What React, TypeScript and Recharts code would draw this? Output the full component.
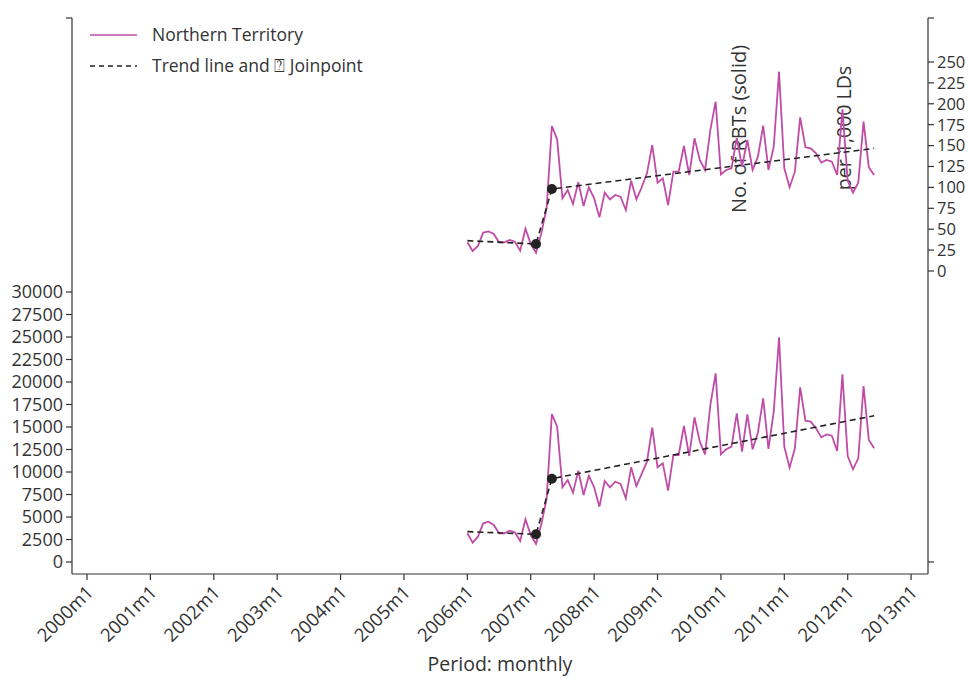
import React from "react";
import { ComposedChart, Line, XAxis, YAxis, Customized } from "recharts";

// month index: 0 = 2000m1
const START_MONTH = 72; // 2006m1

// No. of RBTs (left axis), monthly from 2006m1 to 2012m6
const rbtCounts = [
  3190, 2150, 2810, 4300, 4480, 4110, 3190, 3190, 3480, 3300, 2330, 4740,
  3000, 2000, 4200, 7000, 16440, 15030, 8300, 9110, 7700, 10150, 7440, 9560,
  8300, 6150, 9000, 8300, 8920, 8670, 7080, 10520, 8440, 9780, 11150, 14930,
  10520, 10960, 7930, 11890, 11890, 15110, 11780, 16070, 13370, 11960, 17440, 20960,
  11960, 12520, 12820, 16520, 12260, 16410, 12520, 14370, 18180, 12560, 16700, 24960,
  12820, 10480, 12630, 19410, 15700, 15590, 14850, 13850, 14180, 14040, 12330, 20850,
  11780, 10300, 11520, 19550, 13550, 12630,
];

// RBTs per 1,000 LDs (right axis)
const ratePer1000 = [
  34.3, 23.9, 29.9, 45.9, 47.4, 44.3, 34.3, 34.3, 37.1, 35.1, 24.3, 50.6,
  32.3, 21.9, 45, 75, 173.4, 157.5, 86.9, 96.9, 80.1, 106.1, 77.8, 100.1,
  86.9, 64.2, 93.7, 85.7, 90.9, 88.9, 73, 108, 85.7, 100.1, 116.8, 150.7,
  105.6, 110.8, 78.9, 118.8, 118.8, 149.5, 114.8, 158.7, 132.8, 120.8, 168.7, 202.5,
  115.6, 120.8, 122.8, 159, 124.8, 156.7, 120.8, 136.7, 173.8, 120.8, 148.7, 238.4,
  122.8, 100.1, 118.8, 183.8, 148, 146.7, 140.7, 129.6, 132.8, 130.8, 114.8, 193.4,
  108, 93.7, 105.6, 178.6, 124, 114.8,
];

// Joinpoint trend lines
const trendMonths = [72, 85, 88, 149];
const trendCounts = [3370, 3080, 9260, 16250];
const trendRates = [36.3, 32.3, 98.1, 146.7];
const joinpointMonths = [85, 88];

const xTicks = [0, 12, 24, 36, 48, 60, 72, 84, 96, 108, 120, 132, 144, 156];
const xTickLabels = [
  "2000m1", "2001m1", "2002m1", "2003m1", "2004m1", "2005m1", "2006m1",
  "2007m1", "2008m1", "2009m1", "2010m1", "2011m1", "2012m1", "2013m1",
];
const leftTicks = [0, 2500, 5000, 7500, 10000, 12500, 15000, 17500, 20000, 22500, 25000, 27500, 30000];
const rightTicks = [0, 25, 50, 75, 100, 125, 150, 175, 200, 225, 250];

const LEFT_DOMAIN: [number, number] = [-1333, 60444];
const RIGHT_DOMAIN: [number, number] = [-362.4, 302.6];
const X_DOMAIN: [number, number] = [-2.84, 159.2];

const PINK = "#c04ca6";
const DARK = "#222222";
const AXIS = "#333333";
const FONT = "'Open Sans', sans-serif";

const data = rbtCounts.map((c, i) => {
  const t = START_MONTH + i;
  const row: any = { t, count: c, rate: ratePer1000[i] };
  const k = trendMonths.indexOf(t);
  if (k >= 0) {
    row.trendCount = trendCounts[k];
    row.trendRate = trendRates[k];
  }
  return row;
});

const JoinDot = (props: any) => {
  const { cx, cy, payload, index } = props;
  if (payload && joinpointMonths.includes(payload.t) && cx != null && cy != null) {
    return <circle key={`jp-${index}`} cx={cx} cy={cy} r={5} fill={DARK} stroke="none" />;
  }
  return <g key={`nj-${index}`} />;
};

const XTick = (props: any) => {
  const { x, y, payload } = props;
  const idx = xTicks.indexOf(payload.value);
  const label = idx >= 0 ? xTickLabels[idx] : "";
  return (
    <text
      x={x + 4}
      y={y + 8}
      textAnchor="end"
      fontSize={18.5}
      fill={AXIS}
      fontFamily={FONT}
      transform={`rotate(-45, ${x + 4}, ${y + 8})`}
      dominantBaseline="middle"
    >
      {label}
    </text>
  );
};

const Overlay = () => (
  <g fontFamily={FONT} fill={AXIS}>
    {/* legend */}
    <line x1={90} y1={35} x2={137} y2={35} stroke={PINK} strokeWidth={1.6} />
    <text x={152} y={41} fontSize={17.5} fill={AXIS}>Northern Territory</text>
    <line x1={90} y1={66} x2={137} y2={66} stroke={DARK} strokeWidth={1.6} strokeDasharray="5 4" />
    <text x={152} y={72} fontSize={17.5} fill={AXIS}>Trend line and {"\u2370"} Joinpoint</text>
    {/* axis titles */}
    <text
      x={746}
      y={129}
      fontSize={20}
      textAnchor="middle"
      fill={AXIS}
      transform="rotate(-90, 746, 129)"
    >
      No. of RBTs (solid)
    </text>
    <text
      x={851}
      y={128}
      fontSize={19.5}
      textAnchor="middle"
      fill={AXIS}
      transform="rotate(-90, 851, 128)"
    >
      per 1,000 LDs
    </text>
    <text x={500} y={671} fontSize={19.5} textAnchor="middle" fill={AXIS}>
      Period: monthly
    </text>
  </g>
);

export default function App() {
  return (
    <div style={{ position: "absolute", left: 0, top: 0, width: 968, height: 680, background: "#fff", fontFamily: FONT }}>
      <ComposedChart
        width={968}
        height={680}
        data={data}
        margin={{ top: 18, right: 0, bottom: 0, left: 0 }}
      >
        <XAxis
          dataKey="t"
          type="number"
          domain={X_DOMAIN}
          ticks={xTicks}
          allowDataOverflow
          height={106}
          tickSize={6}
          tick={<XTick />}
          axisLine={{ stroke: AXIS, strokeWidth: 1.2 }}
          tickLine={{ stroke: AXIS, strokeWidth: 1.2 }}
          interval={0}
        />
        <YAxis
          yAxisId="left"
          orientation="left"
          type="number"
          domain={LEFT_DOMAIN}
          ticks={[...leftTicks, LEFT_DOMAIN[1]]}
          tickFormatter={(v: number) => (leftTicks.includes(v) ? String(v) : "")}
          allowDataOverflow
          width={72}
          tickSize={6}
          tickMargin={3}
          interval={0}
          tick={{ fontSize: 18, fill: AXIS, fontFamily: FONT }}
          axisLine={{ stroke: AXIS, strokeWidth: 1.2 }}
          tickLine={{ stroke: AXIS, strokeWidth: 1.2 }}
        />
        <YAxis
          yAxisId="right"
          orientation="right"
          type="number"
          domain={RIGHT_DOMAIN}
          ticks={[-348, ...rightTicks, RIGHT_DOMAIN[1]]}
          tickFormatter={(v: number) => (rightTicks.includes(v) ? String(v) : "")}
          allowDataOverflow
          width={40}
          tickSize={6}
          tickMargin={3}
          interval={0}
          tick={{ fontSize: 16.5, fill: AXIS, fontFamily: FONT, textAnchor: "start" }}
          axisLine={{ stroke: AXIS, strokeWidth: 1.2 }}
          tickLine={{ stroke: AXIS, strokeWidth: 1.2 }}
        />
        <Line
          yAxisId="left"
          type="linear"
          dataKey="count"
          stroke={PINK}
          strokeWidth={1.8}
          dot={false}
          isAnimationActive={false}
        />
        <Line
          yAxisId="right"
          type="linear"
          dataKey="rate"
          stroke={PINK}
          strokeWidth={1.8}
          dot={false}
          isAnimationActive={false}
        />
        <Line
          yAxisId="left"
          type="linear"
          dataKey="trendCount"
          stroke={DARK}
          strokeWidth={1.6}
          strokeDasharray="6 4"
          connectNulls
          dot={JoinDot}
          activeDot={false}
          isAnimationActive={false}
        />
        <Line
          yAxisId="right"
          type="linear"
          dataKey="trendRate"
          stroke={DARK}
          strokeWidth={1.6}
          strokeDasharray="6 4"
          connectNulls
          dot={JoinDot}
          activeDot={false}
          isAnimationActive={false}
        />
        <Customized component={Overlay} />
      </ComposedChart>
    </div>
  );
}
